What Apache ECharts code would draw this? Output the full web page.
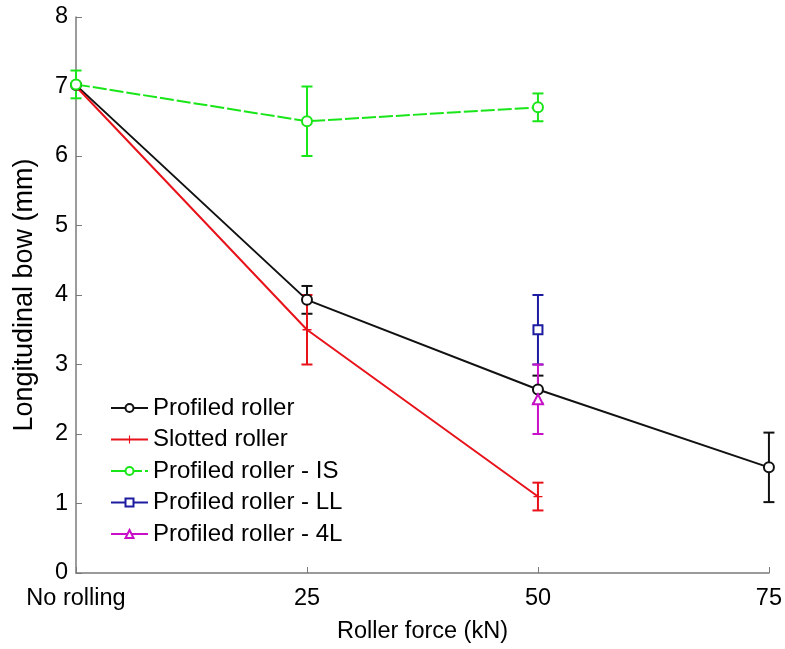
<!DOCTYPE html>
<html>
<head>
<meta charset="utf-8">
<title>Longitudinal bow vs roller force</title>
<script src="https://cdn.jsdelivr.net/npm/echarts@6/dist/echarts.min.js"></script>
<style>
  html, body { margin: 0; padding: 0; background: #fff; }
  #chart { width: 785px; height: 649px; }
</style>
</head>
<body>
<div id="chart"></div>
<script>
// Roller force levels (kN); 0 stands for the unrolled reference state
const xTicks = [0, 25, 50, 75];
const xTickLabels = ['No rolling', '25', '50', '75'];

// Profiled roller
const profiledForce = [0, 25, 50, 75];
const profiledBow   = [7.02, 3.93, 2.64, 1.52];
const profiledLow   = [null, 3.73, 2.44, 1.02];
const profiledHigh  = [null, 4.13, 2.84, 2.02];

// Slotted roller
const slottedForce = [0, 25, 50];
const slottedBow   = [7.0, 3.5, 1.1];
const slottedLow   = [null, 3.0, 0.9];
const slottedHigh  = [null, 4.0, 1.3];

// Profiled roller - IS
const isForce = [0, 25, 50];
const isBow   = [7.03, 6.5, 6.7];
const isLow   = [6.83, 6.0, 6.5];
const isHigh  = [7.23, 7.0, 6.9];

// Profiled roller - LL
const llForce = [50];
const llBow   = [3.5];
const llLow   = [3.0];
const llHigh  = [4.0];

// Profiled roller - 4L
const fourLForce = [50];
const fourLBow   = [2.5];
const fourLLow   = [2.0];
const fourLHigh  = [3.0];

const FONT = '"Liberation Sans", Arial, Helvetica, sans-serif';
const plusSymbol = 'path://M-1,-0.14 L1,-0.14 L1,0.14 L-1,0.14 Z M-0.14,-1 L0.14,-1 L0.14,1 L-0.14,1 Z';

function pairs(xs, ys) {
  return xs.map((x, i) => [x, ys[i]]);
}

function errorData(xs, lo, hi) {
  const out = [];
  xs.forEach((x, i) => {
    if (lo[i] != null && hi[i] != null) out.push([x, lo[i], hi[i]]);
  });
  return out;
}

function errorBars(name, color, data) {
  return {
    name: name + ' error',
    type: 'custom',
    data: data,
    encode: { x: 0, y: [1, 2] },
    z: 3,
    silent: true,
    renderItem: function (params, api) {
      const x = api.value(0);
      const lo = api.coord([x, api.value(1)]);
      const hi = api.coord([x, api.value(2)]);
      const w = 5.5;
      const style = { stroke: color, lineWidth: 2 };
      return {
        type: 'group',
        children: [
          { type: 'line', shape: { x1: lo[0], y1: lo[1], x2: hi[0], y2: hi[1] }, style: style },
          { type: 'line', shape: { x1: lo[0] - w, y1: lo[1], x2: lo[0] + w, y2: lo[1] }, style: style },
          { type: 'line', shape: { x1: hi[0] - w, y1: hi[1], x2: hi[0] + w, y2: hi[1] }, style: style }
        ]
      };
    }
  };
}

function lineSeries(name, color, data, symbol, extra) {
  return Object.assign({
    name: name,
    type: 'line',
    data: data,
    symbol: symbol,
    symbolSize: 10,
    showAllSymbol: true,
    z: 4,
    lineStyle: { color: color, width: 2 },
    itemStyle: { color: '#fff', borderColor: color, borderWidth: 2 },
    emphasis: { disabled: true }
  }, extra || {});
}

const cBlack = '#111111';
const cRed = '#e8121a';
const cGreen = '#19e619';
const cBlue = '#1c1ca0';
const cMagenta = '#c810c8';

const chart = echarts.init(document.getElementById('chart'), null, { renderer: 'canvas' });

chart.setOption({
  animation: false,
  backgroundColor: '#fff',
  textStyle: { fontFamily: FONT },
  grid: { left: 76, right: 14, top: 17, bottom: 72, containLabel: false },
  xAxis: {
    type: 'value',
    min: 0,
    max: 75,
    interval: 25,
    name: 'Roller force (kN)',
    nameLocation: 'middle',
    nameGap: 47,
    nameTextStyle: { color: '#000', fontSize: 23.5, fontFamily: FONT },
    axisLine: { show: true, lineStyle: { color: '#7a7a7a', width: 1.5 } },
    axisTick: { show: true, inside: true, length: 6, lineStyle: { color: '#7a7a7a' } },
    splitLine: { show: false },
    axisLabel: {
      color: '#000',
      fontSize: 23.5,
      fontFamily: FONT,
      margin: 14,
      formatter: function (v) {
        const i = xTicks.indexOf(v);
        return i >= 0 ? xTickLabels[i] : '';
      }
    }
  },
  yAxis: {
    type: 'value',
    min: 0,
    max: 8,
    interval: 1,
    name: 'Longitudinal bow (mm)',
    nameLocation: 'middle',
    nameGap: 38,
    nameTextStyle: { color: '#000', fontSize: 27, fontFamily: FONT },
    axisLine: { show: true, lineStyle: { color: '#7a7a7a', width: 1.5 } },
    axisTick: { show: true, inside: true, length: 6, lineStyle: { color: '#7a7a7a' } },
    splitLine: { show: false },
    axisLabel: { color: '#000', fontSize: 23.5, fontFamily: FONT, margin: 8 }
  },
  legend: {
    orient: 'vertical',
    left: 105,
    top: 391,
    itemWidth: 37,
    itemHeight: 10,
    itemGap: 7.5,
    data: ['Profiled roller', 'Slotted roller', 'Profiled roller - IS', 'Profiled roller - LL', 'Profiled roller - 4L'],
    textStyle: { color: '#000', fontSize: 24, lineHeight: 24, fontFamily: FONT },
    selectedMode: false
  },
  series: [
    lineSeries('Profiled roller', cBlack, pairs(profiledForce, profiledBow), 'circle'),
    errorBars('Profiled roller', cBlack, errorData(profiledForce, profiledLow, profiledHigh)),
    lineSeries('Slotted roller', cRed, pairs(slottedForce, slottedBow), plusSymbol, {
      symbolSize: 9,
      itemStyle: { color: cRed, borderWidth: 0 }
    }),
    errorBars('Slotted roller', cRed, errorData(slottedForce, slottedLow, slottedHigh)),
    lineSeries('Profiled roller - IS', cGreen, pairs(isForce, isBow), 'circle', {
      lineStyle: { color: cGreen, width: 2, type: [14, 3] }
    }),
    errorBars('Profiled roller - IS', cGreen, errorData(isForce, isLow, isHigh)),
    lineSeries('Profiled roller - LL', cBlue, pairs(llForce, llBow), 'rect', { symbolSize: 9 }),
    errorBars('Profiled roller - LL', cBlue, errorData(llForce, llLow, llHigh)),
    lineSeries('Profiled roller - 4L', cMagenta, pairs(fourLForce, fourLBow), 'triangle', { symbolSize: 10 }),
    errorBars('Profiled roller - 4L', cMagenta, errorData(fourLForce, fourLLow, fourLHigh))
  ]
});
</script>
</body>
</html>
